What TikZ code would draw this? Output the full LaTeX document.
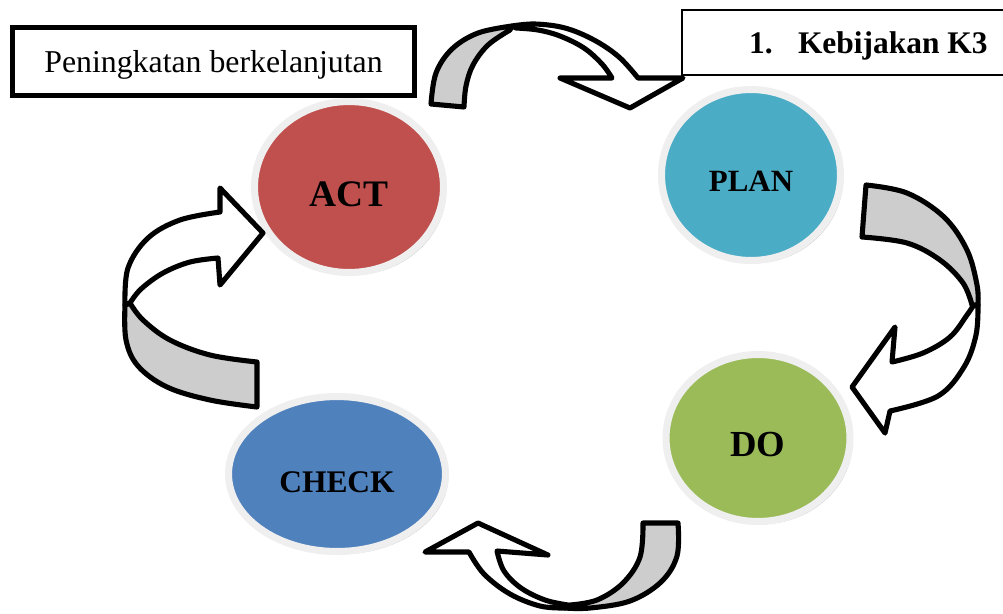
\documentclass[tikz,border=0pt]{standalone}
\usepackage{fontspec}
\setmainfont{Liberation Serif}
\usetikzlibrary{shapes.geometric,shadows}
\definecolor{actred}{HTML}{C0504D}
\definecolor{planblue}{HTML}{4BACC6}
\definecolor{dogreen}{HTML}{9BBB59}
\definecolor{checkblue}{HTML}{4F81BD}
\definecolor{ringgray}{HTML}{EFEFEF}
\definecolor{arrowgray}{HTML}{CDCDCD}
\begin{document}
\begin{tikzpicture}[x=0.02cm,y=-0.02cm,
  phase/.style={ellipse, draw=ringgray, line width=4pt, inner sep=0pt,
    drop shadow={shadow xshift=1.6pt, shadow yshift=-1.6pt, opacity=0.3, fill=black!60}},
  phaselbl/.style={font=\bfseries, text=black, yshift=-0.14cm},
  backband/.style={fill=arrowgray, draw=black, line width=2.9pt, line join=round},
  frontband/.style={fill=white, draw=black, line width=2.9pt, line join=round},
  sm/.style={smooth, tension=0.6}]
\clip (0,0) rectangle (1003,613);
\fill[white] (0,0) rectangle (1003,613);

% boxes
\node[draw, line width=0.1cm, minimum width=8.04cm, minimum height=1.36cm, inner sep=0pt,
  text depth=0pt, font=\fontsize{18.1}{21}\selectfont] (peningkatan) at (213.5,61.5)
  {Peningkatan berkelanjutan};
\node[draw, line width=1.2pt, anchor=west, minimum height=1.3cm, inner xsep=0pt, inner ysep=0pt,
  text depth=0pt, font=\bfseries\fontsize{17.9}{20}\selectfont] (k3) at (681,42.5)
  {\hspace*{1.34cm}\makebox[0.98cm][l]{1.}Kebijakan K3\hspace*{1.2cm}};

% phases
\node[phase, fill=actred, minimum width=3.78cm, minimum height=3.42cm,
  label={[phaselbl, font=\bfseries\fontsize{21.3}{24}\selectfont]center:ACT}] (act) at (349,187) {};
\node[phase, fill=planblue, minimum width=3.58cm, minimum height=3.42cm,
  label={[phaselbl, font=\bfseries\fontsize{17.6}{20}\selectfont, yshift=0.02cm]center:PLAN}] (plan) at (751,175) {};
\node[phase, fill=dogreen, minimum width=3.68cm, minimum height=3.34cm,
  label={[phaselbl, font=\bfseries\fontsize{20.9}{24}\selectfont]center:DO}] (do) at (758,438) {};
\node[phase, fill=checkblue, minimum width=4.34cm, minimum height=3.10cm,
  label={[phaselbl, font=\bfseries\fontsize{17.9}{20}\selectfont, yshift=-0.02cm]center:CHECK}] (check) at (337,474) {};

% top arrow: ACT -> PLAN
\draw[backband] (431,104) -- plot[sm] coordinates {(431,104) (436,73) (452,49) (478,33) (512,26)}
  -- plot[sm] coordinates {(510,30) (488,45) (473,65) (466,86) (464,107)} -- cycle;
\draw[frontband] (512,26) -- plot[sm] coordinates {(512,26) (535,24) (565,28) (594,40) (619,57) (638,78)}
  -- (683,78) -- (630,108) -- (560,78) -- (612,78)
  -- plot[sm] coordinates {(612,78) (602,64) (584,48) (560,36) (538,30) (516,28)} -- cycle;

% right arrow: PLAN -> DO
\draw[backband] (866,185) -- plot[sm] coordinates {(866,185) (907,193) (944,217) (967,250) (977,285) (978,305)}
  -- plot[sm] coordinates {(972,305) (963,283) (940,260) (907,243) (862,237)} -- cycle;
\draw[frontband] (978,305) -- plot[sm] coordinates {(978,305) (976,335) (964,367) (938,396) (890,411)}
  -- (885,433) -- (852,387) -- (895,327) -- (892,362)
  -- plot[sm] coordinates {(892,362) (923,353) (950,337) (967,315) (973,306)} -- cycle;

% bottom arrow: DO -> CHECK
\draw[backband] (678,523) -- plot[sm] coordinates {(678,523) (677,556) (661,582) (630,601) (590,608) (565,608)}
  -- plot[sm] coordinates {(570,605) (597,600) (623,583) (640,557) (643,523)} -- cycle;
\draw[frontband] (565,608) -- plot[sm] coordinates {(565,608) (540,606) (510,594) (484,574) (469,552)}
  -- (425,552) -- (478,523) -- (548,555) -- (497,551)
  -- plot[sm] coordinates {(497,551) (504,571) (521,588) (545,600) (568,605)} -- cycle;

% left arrow: CHECK -> ACT
\draw[backband] (257,407) -- plot[sm] coordinates {(257,407) (210,400) (167,387) (138,366) (126,340) (125,305)}
  -- plot[sm] coordinates {(130,303) (143,320) (170,340) (210,355) (257,362)} -- cycle;
\draw[frontband] (125,305) -- plot[sm] coordinates {(125,305) (128,268) (148,238) (180,220) (220,212)}
  -- (220,188) -- (263,233) -- (220,285) -- (218,258)
  -- plot[sm] coordinates {(218,258) (190,262) (163,273) (141,289) (130,303)} -- cycle;
\end{tikzpicture}
\end{document}
